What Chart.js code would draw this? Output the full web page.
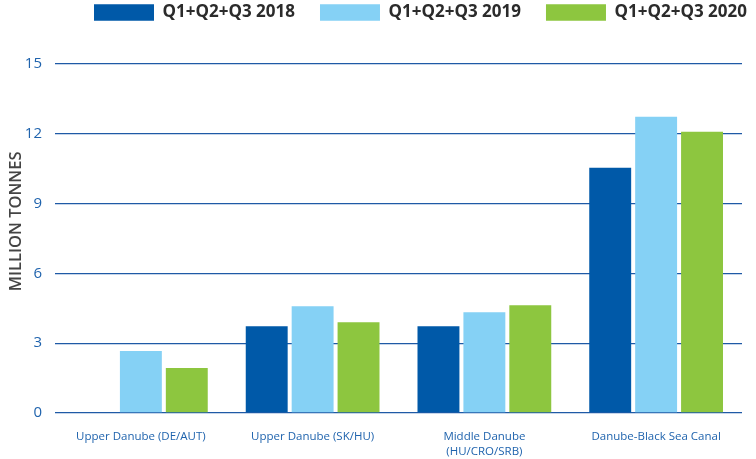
<!DOCTYPE html>
<html>
<head>
<meta charset="utf-8">
<script src="https://cdn.jsdelivr.net/npm/chart.js@4.4.1/dist/chart.umd.min.js"></script>
<style>
  html, body { margin: 0; padding: 0; background: #fff; }
  #wrap { width: 756px; height: 459px; }
</style>
</head>
<body>
<div id="wrap"><canvas id="chart" width="756" height="459"></canvas></div>
<script>
// Data
const categories = [
  "Upper Danube (DE/AUT)",
  "Upper Danube (SK/HU)",
  ["Middle Danube", "(HU/CRO/SRB)"],
  "Danube-Black Sea Canal"
];
const seriesNames = ["Q1+Q2+Q3 2018", "Q1+Q2+Q3 2019", "Q1+Q2+Q3 2020"];
const values2018 = [null, 3.73, 3.73, 10.54];
const values2019 = [2.66, 4.59, 4.33, 12.73];
const values2020 = [1.93, 3.9, 4.63, 12.09];
const yTicks = [0, 3, 6, 9, 12, 15];

const colors = ["#0059a8", "#85d1f5", "#8dc63f"];
const tickBlue = "#1f63ad";

// legend takes a fixed height, then gets moved to where the reference has it
const legendPlace = {
  id: "legendPlace",
  beforeInit(chart) {
    const origFit = chart.legend.fit;
    chart.legend.fit = function () {
      origFit.call(this);
      this.height = 64;
    };
  },
  afterLayout(chart) {
    const lg = chart.legend;
    lg.left = 69;
    lg.right = 800;
    lg.top = -21;
  }
};

const ctx = document.getElementById("chart").getContext("2d");
new Chart(ctx, {
  type: "bar",
  data: {
    labels: categories,
    datasets: [values2018, values2019, values2020].map((vals, i) => ({
      label: seriesNames[i],
      data: vals,
      backgroundColor: colors[i],
      borderWidth: 0,
      categoryPercentage: 0.802,
      barPercentage: 0.913,
    })),
  },
  options: {
    responsive: false,
    animation: false,
    layout: {
      padding: { left: 0, right: 14, top: 0, bottom: 0 }
    },
    plugins: {
      legend: {
        position: "top",
        align: "start",
        labels: {
          boxWidth: 60,
          boxHeight: 16.5,
          padding: 25,
          color: "#2b2b2b",
          font: { family: "Open Sans", size: 17, weight: "bold" },
        },
      },
      tooltip: { enabled: false },
    },
    scales: {
      y: {
        min: 0,
        max: 15,
        afterBuildTicks(axis) {
          axis.ticks = yTicks.map(v => ({ value: v }));
        },
        afterFit(axis) {
          axis.width = 55;
        },
        grid: {
          color: "#1f5aa6",
          lineWidth: 1.3,
          drawTicks: false,
        },
        border: { display: false },
        ticks: {
          color: tickBlue,
          padding: 13,
          font: { family: "Open Sans", size: 15 },
        },
        title: {
          display: true,
          text: "        MILLION TONNES",
          color: "#444444",
          padding: { top: 6, bottom: 0 },
          font: { family: "Open Sans", size: 16.5, weight: "600" },
        },
      },
      x: {
        afterFit(axis) {
          axis.height = 46;
        },
        grid: { display: false, drawTicks: false },
        border: { display: false },
        ticks: {
          color: tickBlue,
          padding: 17,
          maxRotation: 0,
          autoSkip: false,
          font: { family: "Open Sans", size: 11.5, lineHeight: 1.25 },
        },
      },
    },
  },
  plugins: [legendPlace],
});
</script>
</body>
</html>
